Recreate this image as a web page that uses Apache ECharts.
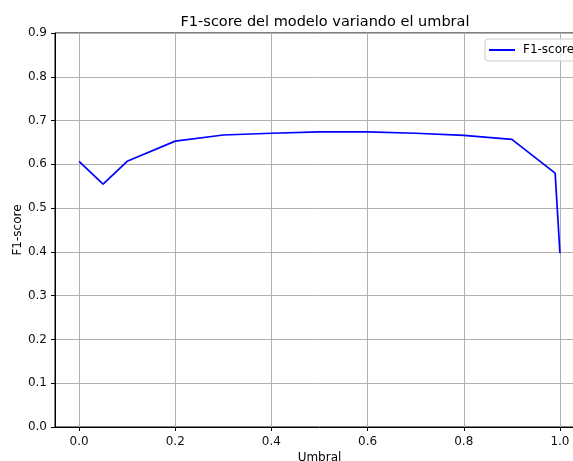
<!DOCTYPE html>
<html><head><meta charset="utf-8">
<script src="https://cdn.jsdelivr.net/npm/echarts@6/dist/echarts.min.js"></script>
<style>html,body{margin:0;padding:0;overflow:hidden;background:#fff;width:573px;height:461px}#c{width:640px;height:461px}</style>
</head><body><div id="c"></div>
<script>
const thresholds = [0.0, 0.05, 0.1, 0.2, 0.3, 0.4, 0.5, 0.6, 0.7, 0.8, 0.9, 0.99, 1.0];
const f1Scores = [0.607, 0.555, 0.607, 0.653, 0.667, 0.671, 0.674, 0.674, 0.671, 0.666, 0.657, 0.580, 0.397];
const xTicks = [0.0, 0.2, 0.4, 0.6, 0.8, 1.0];
const yTicks = [0.0, 0.1, 0.2, 0.3, 0.4, 0.5, 0.6, 0.7, 0.8, 0.9];

const font = 'DejaVu Sans';
const chart = echarts.init(document.getElementById('c'), null, {renderer: 'canvas'});
const axisCommon = {
  axisLine: {show: true, onZero: false, lineStyle: {color: '#000', width: 1}},
  axisTick: {show: true, inside: false, length: 4, lineStyle: {color: '#000'}},
  axisLabel: {color: '#111', fontFamily: font, fontSize: 12},
  splitLine: {show: true, lineStyle: {color: '#b0b0b0', width: 1}},
  nameTextStyle: {color: '#000', fontFamily: font, fontSize: 12},
  nameMoveOverlap: false
};
chart.setOption({
  animation: false,
  title: {text: 'F1-score del modelo variando el umbral', left: 320, top: 10, textAlign: 'center',
    textStyle: {fontFamily: font, fontSize: 14.5, fontWeight: 'normal', color: '#000'}},
  grid: {left: 55, top: 33, width: 529, height: 394, show: true, borderColor: '#000', borderWidth: 1,
    outerBoundsMode: 'none', containLabel: false},
  legend: {left: 485, top: 39, itemWidth: 26, itemHeight: 2, icon: 'rect',
    backgroundColor: 'rgba(255,255,255,0.8)', borderColor: '#ccc', borderWidth: 1, borderRadius: 3,
    padding: [5, 8, 5, 4], itemGap: 8,
    textStyle: {fontFamily: font, fontSize: 12, color: '#000', padding: [0, 0, 0, 3]}, data: ['F1-score']},
  xAxis: Object.assign({}, axisCommon, {type: 'value', min: -0.05, max: 1.05,
    name: 'Umbral', nameLocation: 'middle', nameGap: 25,
    axisLabel: Object.assign({}, axisCommon.axisLabel, {margin: 9,
      customValues: xTicks, formatter: v => v.toFixed(1)}),
    axisTick: Object.assign({}, axisCommon.axisTick, {customValues: xTicks}),
    splitLine: axisCommon.splitLine,
    interval: 0.2
  }),
  yAxis: Object.assign({}, axisCommon, {type: 'value', min: 0, max: 0.9, interval: 0.1,
    name: 'F1-score', nameLocation: 'middle', nameGap: 31,
    axisLabel: Object.assign({}, axisCommon.axisLabel, {formatter: v => v.toFixed(1)})
  }),
  series: [{name: 'F1-score', type: 'line', data: thresholds.map((t, i) => [t, f1Scores[i]]),
    showSymbol: false, symbol: 'none', lineStyle: {color: '#0000ff', width: 1.7}, itemStyle: {color: '#0000ff'}}]
});
</script></body></html>
